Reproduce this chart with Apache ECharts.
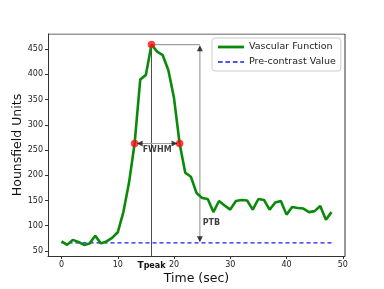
<!DOCTYPE html>
<html><head><meta charset="utf-8">
<script src="https://cdn.jsdelivr.net/npm/echarts@6/dist/echarts.min.js"></script>
<style>html,body{margin:0;padding:0;background:#fff}#c{width:384px;height:289px}</style>
</head><body><div id="c"></div>
<script>
var times = [0,1,2,3,4,5,6,7,8,9,10,11,12,13,14,15,16,17,18,19,20,21,22,23,24,25,26,27,28,29,30,31,32,33,34,35,36,37,38,39,40,41,42,43,44,45,46,47,48];
var hu = [69,62,72,68,62,65,80,65,69,76,87,127,185,263,390,399,459,445,438,408,353,263,205,197,165,155,153,127,149,140,132,149,151,150,132,153,151,132,146,149,122,137,135,134,127,129,139,112,127];
var preTimes = [0,48];
var preValues = [66,66];
var keyTimes = [13,16,21];
var keyValues = [263,459,263];
var xTicks = [0,10,20,30,40,50];
var yTicks = [50,100,150,200,250,300,350,400,450];
var tPeak = 16, peakValue = 459, halfValue = 263, baseline = 66;
var ptbTime = 24.6;

var chart = echarts.init(document.getElementById('c'));
var font = 'DejaVu Sans';
function zip(a,b){return a.map(function(v,i){return [v,b[i]];});}
var gray = '#a0a0a0';
var green = '#0a8a0a', blue = '#1a1ae6';
function seg(data, color, w, type){
  return {type:'line', data:data, showSymbol:false, symbol:'none', silent:true,
    lineStyle:{color:color, width:w, type:type||'solid'}, z:2, animation:false};
}
chart.setOption({
  animation:false,
  textStyle:{fontFamily:font},
  grid:{left:48, right:39, top:34, bottom:33, containLabel:false, outerBoundsMode:'none'},
  legend:{
    data:[
      {name:'Vascular Function', icon:'path://M0,0h28v3h-28z', itemStyle:{color:green}},
      {name:'Pre-contrast Value', icon:'path://M0,0h5v1.4h-5z M8,0h5v1.4h-5z M16,0h5v1.4h-5z M24,0h4v1.4h-4z', itemStyle:{color:blue}}
    ],
    orient:'vertical', left:212, top:38, itemWidth:26, itemHeight:3, itemGap:5,
    padding:[4,5,4,6], borderColor:'#cccccc', borderWidth:1, borderRadius:3,
    backgroundColor:'rgba(255,255,255,0.8)',
    textStyle:{fontFamily:font, fontSize:9.5, color:'#222'}
  },
  xAxis:{type:'value', min:-2.4, max:50.4, name:'Time (sec)', nameLocation:'middle', nameGap:16, nameMoveOverlap:false,
    nameTextStyle:{fontFamily:font, fontSize:12.5, color:'#111'},
    axisLine:{show:true, onZero:false, lineStyle:{color:'#333', width:1}},
    axisTick:{show:true, customValues:xTicks, length:3, lineStyle:{color:'#333'}},
    axisLabel:{customValues:xTicks.concat([tPeak]), fontSize:8, color:'#222', margin:5,
      formatter:function(v){ return v===tPeak ? '{t|T}{p|peak}' : String(v); },
      rich:{t:{fontWeight:'bold', fontSize:9, color:'#111', fontFamily:font, verticalAlign:'bottom'}, p:{fontWeight:'bold', fontSize:8, color:'#111', fontFamily:font, verticalAlign:'bottom'}}},
    splitLine:{show:false}},
  yAxis:{type:'value', min:40, max:480, name:'Hounsfield Units', nameLocation:'middle', nameGap:24, nameMoveOverlap:false,
    nameTextStyle:{fontFamily:font, fontSize:12.5, color:'#111'},
    axisLine:{show:true, onZero:false, lineStyle:{color:'#333', width:1}},
    axisTick:{show:true, customValues:yTicks, length:3, lineStyle:{color:'#333'}},
    axisLabel:{customValues:yTicks, fontSize:8, color:'#222', margin:5},
    splitLine:{show:false}},
  series:[
    seg([[-2.4,480],[50.4,480]], '#333', 1),
    seg([[50.4,40],[50.4,480]], '#333', 1),
    seg([[tPeak,40],[tPeak,peakValue]], '#222', 0.8),
    seg([[tPeak,peakValue],[ptbTime,peakValue]], gray, 1.2),
    seg([[ptbTime,baseline+4],[ptbTime,peakValue-4]], gray, 1.2),
    seg([[keyTimes[0]+0.6,halfValue],[keyTimes[2]-0.6,halfValue]], gray, 1.2),
    {name:'Pre-contrast Value', type:'line', data:zip(preTimes,preValues), showSymbol:false, symbol:'none',
      lineStyle:{color:blue, width:1.3, type:[4,3]}, itemStyle:{color:blue}, z:3},
    {name:'Vascular Function', type:'line', data:zip(times,hu), showSymbol:false, symbol:'none',
      lineStyle:{color:green, width:2.6}, itemStyle:{color:green}, z:4},
    {type:'scatter', data:zip(keyTimes,keyValues), symbolSize:7.5, itemStyle:{color:'#ff1010'}, z:6, silent:true},
    {type:'scatter', silent:true, z:7, itemStyle:{color:'#111'}, symbol:'triangle', symbolSize:[6,6],
      data:[
        {value:[keyTimes[0]+0.9,halfValue], symbolRotate:90},
        {value:[keyTimes[2]-0.9,halfValue], symbolRotate:-90},
        {value:[ptbTime,peakValue-7], symbolRotate:0},
        {value:[ptbTime,baseline+7], symbolRotate:180}
      ]},
    {type:'scatter', silent:true, z:8, symbolSize:1, itemStyle:{color:'rgba(0,0,0,0)'},
      label:{show:true, fontFamily:font, fontWeight:'bold', fontSize:8, color:'#111'},
      data:[
        {value:[17,251], label:{formatter:'FWHM', position:'inside'}},
        {value:[ptbTime+0.4,105], label:{formatter:'PTB', position:'right', distance:0}}
      ]}
  ]
});
</script></body></html>
